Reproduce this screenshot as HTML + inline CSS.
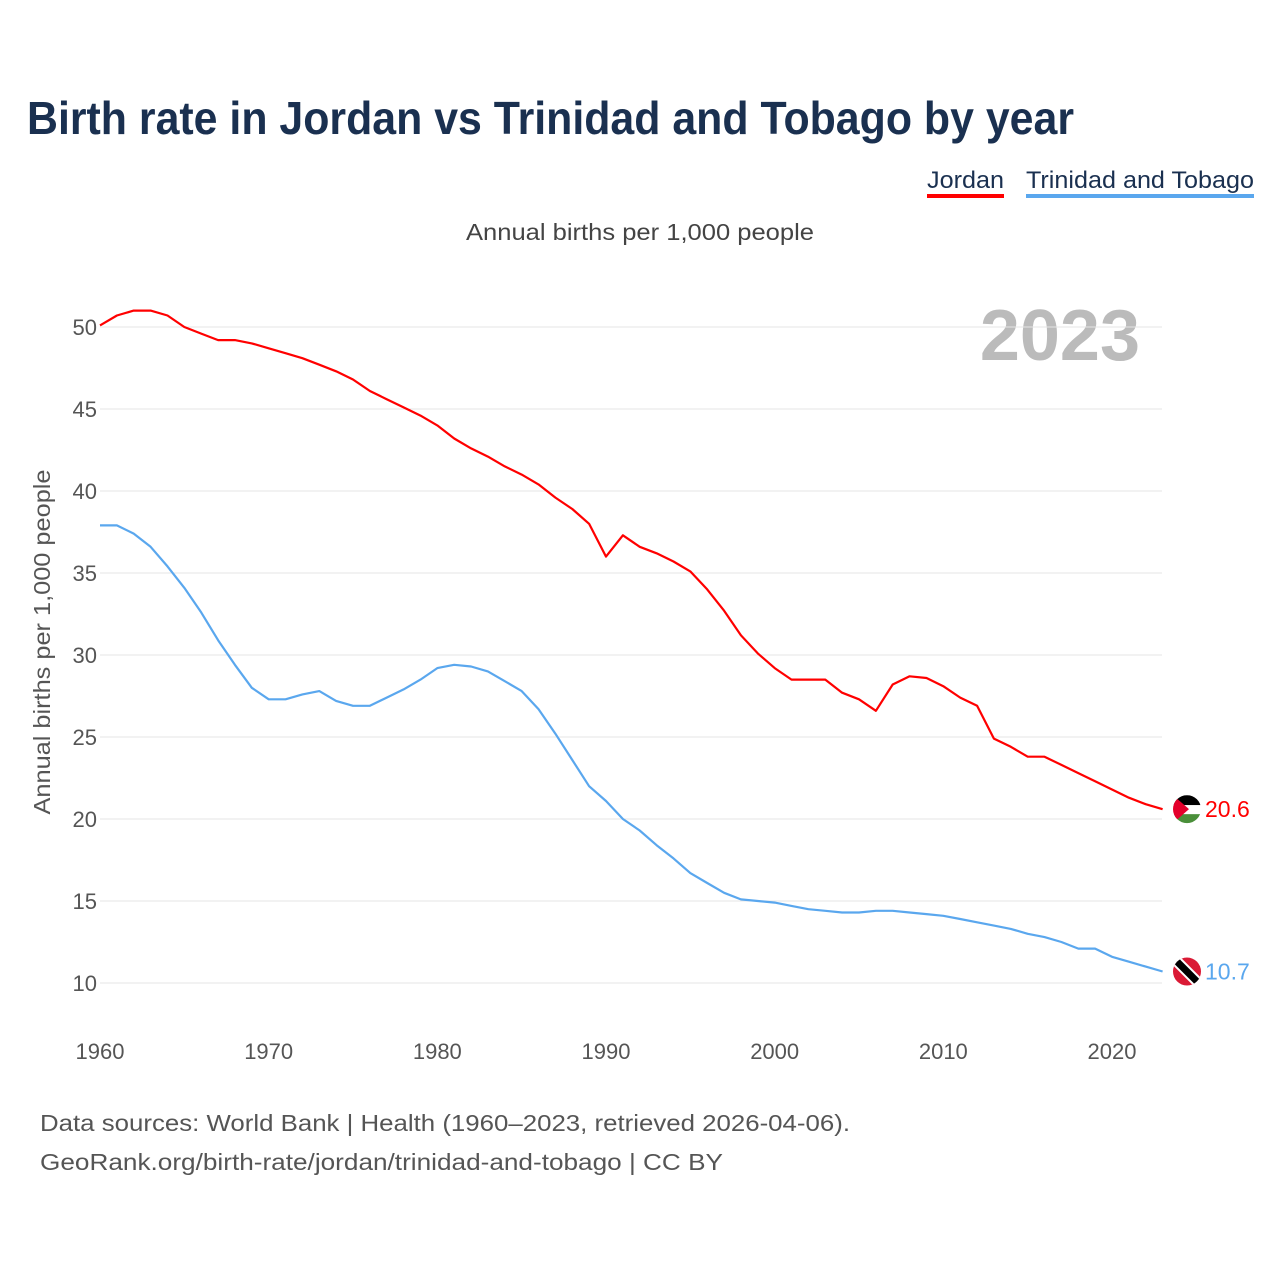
<!DOCTYPE html>
<html><head><meta charset="utf-8">
<style>
body{margin:0;background:#fff;font-family:"Liberation Sans",sans-serif;}
#wrap{position:relative;width:1280px;height:1280px;overflow:hidden;}
</style></head>
<body>
<div id="wrap">
<svg id="chart" width="1280" height="1280">
<text x="27" y="134" font-size="46" font-weight="bold" fill="#1a3050" textLength="1047" lengthAdjust="spacingAndGlyphs">Birth rate in Jordan vs Trinidad and Tobago by year</text>
<g>
<text x="927" y="188" font-size="24" fill="#1a3050" textLength="77" lengthAdjust="spacingAndGlyphs">Jordan</text>
<rect x="927" y="194" width="77" height="4" fill="#f00"/>
</g>
<g>
<text x="1026" y="188" font-size="24" fill="#1a3050" textLength="228" lengthAdjust="spacingAndGlyphs">Trinidad and Tobago</text>
<rect x="1026" y="194" width="228" height="4" fill="#5aa7ee"/>
</g>
<text x="466" y="240" font-size="23" fill="#444" textLength="348" lengthAdjust="spacingAndGlyphs">Annual births per 1,000 people</text>
<text x="1140" y="360" font-size="72" font-weight="bold" fill="#bbb" text-anchor="end">2023</text>
<text transform="translate(50,642) rotate(-90)" font-size="23" fill="#555" text-anchor="middle" textLength="345" lengthAdjust="spacingAndGlyphs">Annual births per 1,000 people</text>
<g id="grid"></g><g id="yt"></g><g id="xt"></g><g id="lines"></g><g id="ends"></g>
<text x="40" y="1131" font-size="23" fill="#555" textLength="810" lengthAdjust="spacingAndGlyphs">Data sources: World Bank | Health (1960–2023, retrieved 2026-04-06).</text>
<text x="40" y="1170" font-size="23" fill="#555" textLength="683" lengthAdjust="spacingAndGlyphs">GeoRank.org/birth-rate/jordan/trinidad-and-tobago | CC BY</text>
</svg>
</div>
<script>
const years=[];for(let y=1960;y<=2023;y++)years.push(y);
const jordan=[50.1,50.7,51.0,51.0,50.7,50.0,49.6,49.2,49.2,49.0,48.7,48.4,48.1,47.7,47.3,46.8,46.1,45.6,45.1,44.6,44.0,43.2,42.6,42.1,41.5,41.0,40.4,39.6,38.9,38.0,36.0,37.3,36.6,36.2,35.7,35.1,34.0,32.7,31.2,30.1,29.2,28.5,28.5,28.5,27.7,27.3,26.6,28.2,28.7,28.6,28.1,27.4,26.9,24.9,24.4,23.8,23.8,23.3,22.8,22.3,21.8,21.3,20.9,20.6];
const trinidad=[37.9,37.9,37.4,36.6,35.4,34.1,32.6,30.9,29.4,28.0,27.3,27.3,27.6,27.8,27.2,26.9,26.9,27.4,27.9,28.5,29.2,29.4,29.3,29.0,28.4,27.8,26.7,25.2,23.6,22.0,21.1,20.0,19.3,18.4,17.6,16.7,16.1,15.5,15.1,15.0,14.9,14.7,14.5,14.4,14.3,14.3,14.4,14.4,14.3,14.2,14.1,13.9,13.7,13.5,13.3,13.0,12.8,12.5,12.1,12.1,11.6,11.3,11.0,10.7];
const yTicks=[10,15,20,25,30,35,40,45,50];
const xTicks=[1960,1970,1980,1990,2000,2010,2020];
const NS='http://www.w3.org/2000/svg';
const xs=y=>100+(y-1960)*(1012/60);
const ys=v=>983-(v-10)*16.4;
function mk(tag,attrs,parent,txt){const e=document.createElementNS(NS,tag);for(const k in attrs)e.setAttribute(k,attrs[k]);if(txt!==undefined)e.textContent=txt;document.getElementById(parent).appendChild(e);return e;}
yTicks.forEach(t=>{
 const l=mk('line',{x1:100,x2:1162,y1:ys(t),y2:ys(t),stroke:'#e6e6e6','stroke-width':1},'grid');
 
 
 const tx=mk('text',{x:97,y:ys(t)+8,'font-size':22,fill:'#555','text-anchor':'end'},'yt',String(t));
 
 
});
xTicks.forEach(t=>{
 const tx=mk('text',{x:xs(t),y:1059,'font-size':22,fill:'#555','text-anchor':'middle'},'xt',String(t));
 
 
});
function line(vals,color,name){
 const d=vals.map((v,i)=>(i?'L':'M')+xs(years[i]).toFixed(1)+','+ys(v).toFixed(1)).join('');
 const p=mk('path',{d:d,fill:'none',stroke:color,'stroke-width':2.2,'stroke-linejoin':'round'},'lines');
 
 
}
line(jordan,'#f00','line-jordan');
line(trinidad,'#5aa7ee','line-trinidad');
const jv=jordan[jordan.length-1],tv=trinidad[trinidad.length-1];
const cx=1187;
let g=mk('g',{},'ends');


let cy=ys(jv);
g.innerHTML=`<clipPath id="cj"><circle cx="${cx}" cy="${cy}" r="14"/></clipPath><g clip-path="url(#cj)"><rect x="${cx-14}" y="${cy-14}" width="28" height="10" fill="#000"/><rect x="${cx-14}" y="${cy-4}" width="28" height="9" fill="#fff"/><rect x="${cx-14}" y="${cy+5}" width="28" height="10" fill="#4a8f3a"/><polygon points="${cx-14},${cy-14} ${cx+2},${cy} ${cx-14},${cy+14}" fill="#e4002b"/></g>`;
let t1=mk('text',{x:1205,y:cy+8,'font-size':23,fill:'#f00'},'ends',jv.toFixed(1));


g=mk('g',{},'ends');


cy=ys(tv);
g.innerHTML=`<clipPath id="ct"><circle cx="${cx}" cy="${cy}" r="14"/></clipPath><g clip-path="url(#ct)"><rect x="${cx-14}" y="${cy-14}" width="28" height="28" fill="#da1a35"/><line x1="${cx-14}" y1="${cy-14}" x2="${cx+14}" y2="${cy+14}" stroke="#fff" stroke-width="11"/><line x1="${cx-14}" y1="${cy-14}" x2="${cx+14}" y2="${cy+14}" stroke="#000" stroke-width="7"/></g>`;
let t2=mk('text',{x:1205,y:cy+8,'font-size':23,fill:'#5aa7ee'},'ends',tv.toFixed(1));


</script>
</body></html>
